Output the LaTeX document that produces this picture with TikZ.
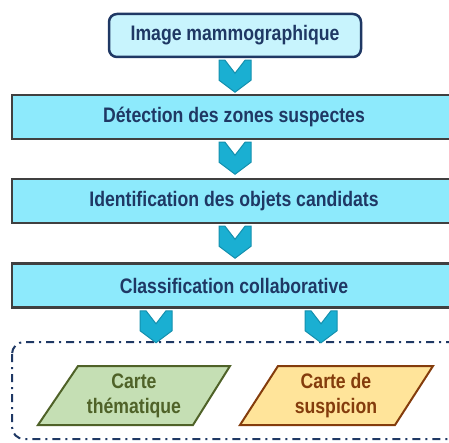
\documentclass[tikz,border=0pt]{standalone}
\usepackage{fontspec}
\setmainfont{Liberation Sans}[FakeStretch=0.84]
\usetikzlibrary{calc}
\definecolor{navy}{HTML}{1F3864}
\definecolor{boxfill}{HTML}{8DEAFC}
\definecolor{topfill}{HTML}{C8F4FD}
\definecolor{boxedge}{HTML}{404040}
\definecolor{chevfill}{HTML}{1AAFD2}
\definecolor{chevedge}{HTML}{1490AE}
\definecolor{greenfill}{HTML}{C5DFB4}
\definecolor{greenedge}{HTML}{4F6228}
\definecolor{orangefill}{HTML}{FFE49A}
\definecolor{orangeedge}{HTML}{843C0C}
\tikzset{
  txt/.style={font=\bfseries\fontsize{21}{25}\selectfont, text=navy},
  topbox/.style={txt, draw=navy, line width=2.5pt, fill=topfill, rounded corners=8pt,
    minimum width=252pt, minimum height=43pt, inner sep=0pt},
  stagebox/.style={txt, draw=boxedge, line width=2.5pt, fill=boxfill,
    minimum width=444pt, minimum height=44pt, inner sep=0pt},
  frame/.style={draw=navy, line width=2pt, rounded corners=12pt,
    dash pattern=on 8pt off 5pt on 2pt off 5pt},
  ptext/.style={font=\bfseries\fontsize{21}{25}\selectfont, align=center},
  chev/.pic={\draw[draw=chevedge, fill=chevfill, line width=1pt, line join=miter]
    (-16,0) -- (-10,0) -- (0,13) -- (10,0) -- (16,0) -- (16,20) -- (0,32) -- (-16,20) -- cycle;}
}
\begin{document}
\begin{tikzpicture}[x=1pt,y=-1pt]
\useasboundingbox (0,0) rectangle (449,443);
\clip (0,0) rectangle (449,443);
\node[topbox] (b1) at (235,35.5) {Image mammographique};
\node[stagebox] (b2) at (234,117) {Détection des zones suspectes};
\node[stagebox] (b3) at (234,201) {Identification des objets candidats};
\node[stagebox] (b4) at (234,285.5) {Classification collaborative};
\draw[frame] (12,342) rectangle (470,439);
\draw[greenedge, fill=greenfill, line width=2pt, line join=miter]
  (38,425) -- (78,366) -- (230,366) -- (193,425) -- cycle;
\node[ptext, text=greenedge] (g) at (134,396) {Carte\\thématique};
\draw[orangeedge, fill=orangefill, line width=2pt, line join=miter]
  (240,425) -- (278,366) -- (433,366) -- (395,425) -- cycle;
\node[ptext, text=orangeedge] (o) at (336,396) {Carte de\\suspicion};
\path ($(b1.south)+(0,2)$) pic {chev};
\path ($(b2.south)+(1,2)$) pic {chev};
\path ($(b3.south)+(1,2)$) pic {chev};
\path ($(b4.south)+(-78,2)$) pic {chev};
\path ($(b4.south)+(87,2)$) pic {chev};
\end{tikzpicture}
\end{document}
